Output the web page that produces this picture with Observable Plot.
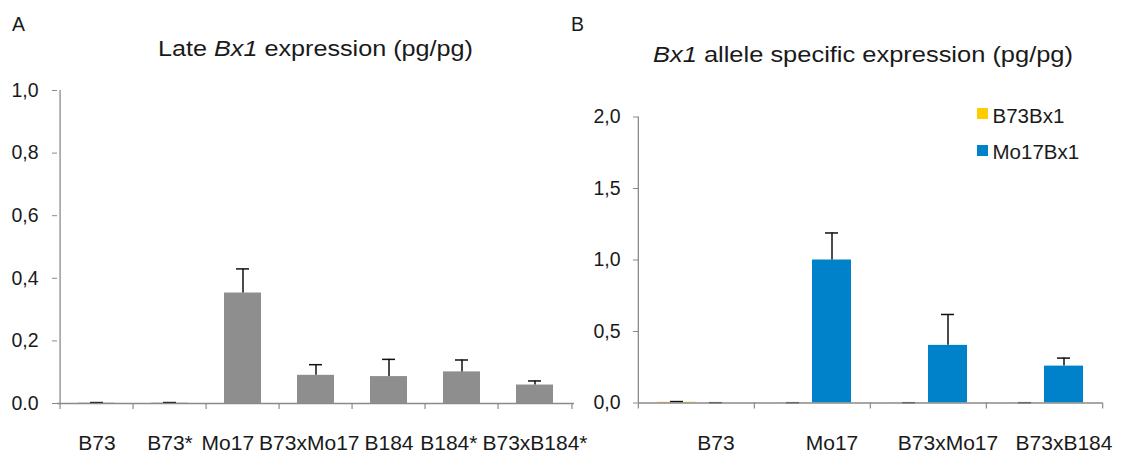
<!DOCTYPE html>
<html><head><meta charset="utf-8">
<script src="https://cdn.jsdelivr.net/npm/d3@7"></script>
<script src="https://cdn.jsdelivr.net/npm/@observablehq/plot@0.6"></script>
<style>
body{margin:0;background:#fff;font-family:"Liberation Sans",Arial,Helvetica,sans-serif;color:#1a1a1a}
#chart{position:relative;width:1122px;height:453px;overflow:hidden;background:#fff}
#chart svg{position:absolute;top:0}
.lbl{position:absolute;white-space:nowrap;line-height:1}
.sw{position:absolute;width:11px;height:11px}
</style></head><body>
<div id="chart"></div>
<script>
// ---------- Panel A: Late Bx1 expression ----------
const linesA = ["B73","B73*","Mo17","B73xMo17","B184","B184*","B73xB184*"];
const lateBx1 = [0.001,0.001,0.353,0.090,0.086,0.101,0.059];
const lateBx1Err = [0.002,0.002,0.077,0.034,0.055,0.038,0.013];
const ticksA = [0,0.2,0.4,0.6,0.8,1.0];
const tickLabelsA = ["0.0","0,2","0,4","0,6","0,8","1,0"];
const titleA = "Late <i>Bx1</i> expression (pg/pg)";

// ---------- Panel B: Bx1 allele specific expression ----------
const linesB = ["B73","Mo17","B73xMo17","B73xB184"];
const alleles = ["B73Bx1","Mo17Bx1"];
const alleleColors = ["#ffcc00","#0082ca"];
const b73Bx1 = [0.005,0.001,0.001,0.001];
const b73Bx1Err = [0.005,0.001,0.001,0.001];
const mo17Bx1 = [0.0,1.0,0.403,0.258];
const mo17Bx1Err = [0.002,0.189,0.216,0.056];
const ticksB = [0,0.5,1.0,1.5,2.0];
const tickLabelsB = ["0,0","0,5","1,0","1,5","2,0"];
const titleB = "<i>Bx1</i> allele specific expression (pg/pg)";

const FONT = '"Liberation Sans", Arial, Helvetica, sans-serif';
const AXIS = "#8a8a8a";
const INK = "#1a1a1a";
const chart = document.getElementById("chart");

// ----- Panel A plot -----
const wA = 600, mlA = 57, mrA = 26;
const stepA = (wA - mlA - mrA) / linesA.length;
const dataA = linesA.map((c, i) => ({c, v: lateBx1[i], e: lateBx1Err[i]}));
const fmtA = new Map(ticksA.map((t, i) => [t, tickLabelsA[i]]));
const plotA = Plot.plot({
  width: wA, height: 453,
  marginLeft: mlA, marginRight: mrA, marginTop: 90, marginBottom: 50,
  style: {fontFamily: FONT, background: "none", overflow: "visible"},
  x: {domain: linesA, paddingInner: 0.5, paddingOuter: 0.25, axis: null},
  y: {domain: [0, 1], axis: null},
  marks: [
    Plot.barY(dataA, {x: "c", y: "v", fill: "#8e8e8e"}),
    Plot.ruleX(dataA, {x: "c", y1: "v", y2: d => d.v + d.e, stroke: "#111", strokeWidth: 1.5}),
    Plot.tickY(dataA, {x: "c", y: d => d.v + d.e, stroke: "#111", strokeWidth: 1.5, insetLeft: 12, insetRight: 12}),
    Plot.ruleY([0], {stroke: AXIS, strokeWidth: 1.3}),
    Plot.ruleX(linesA, {x: d => d, y1: 0, y2: 0, dx: -stepA / 2, insetBottom: -6, stroke: AXIS, strokeWidth: 1.2}),
    Plot.ruleX(linesA.slice(-1), {x: d => d, y1: 0, y2: 0, dx: stepA / 2, insetBottom: -6, stroke: AXIS, strokeWidth: 1.2}),
    Plot.ruleX(linesA.slice(0, 1), {x: d => d, y1: 1, y2: 0, dx: -stepA / 2, stroke: AXIS, strokeWidth: 1.3}),
    Plot.axisY({ticks: ticksA, tickFormat: d => fmtA.get(d), tickSize: 5, tickPadding: 14, label: null,
      stroke: AXIS, fill: INK, fontSize: 19.5}),
    Plot.text(linesA, {x: d => d, text: d => d, frameAnchor: "bottom", lineAnchor: "top",
      dy: 32, fontSize: 21, fill: INK})
  ]
});

// ----- Panel B plot -----
const dataB = [];
linesB.forEach((c, i) => {
  dataB.push({c, a: alleles[0], v: b73Bx1[i], e: b73Bx1Err[i]});
  dataB.push({c, a: alleles[1], v: mo17Bx1[i], e: mo17Bx1Err[i]});
});
const leftB = 570, wB = 552, mlB = 67, mrB = 19;
const fstep = (wB - mlB - mrB) / linesB.length;
const po = 0.487;
const xstep = fstep / (alleles.length + 2 * po);
const edgeOff = po * xstep + xstep / 2;
const fmtB = new Map(ticksB.map((t, i) => [t, tickLabelsB[i]]));
const plotB = Plot.plot({
  width: wB, height: 453,
  marginLeft: mlB, marginRight: mrB, marginTop: 116.5, marginBottom: 50.5,
  style: {fontFamily: FONT, background: "none", overflow: "visible"},
  fx: {domain: linesB, padding: 0, axis: null},
  x: {domain: alleles, paddingInner: 0, paddingOuter: po, axis: null},
  y: {domain: [0, 2], axis: null},
  color: {domain: alleles, range: alleleColors},
  marks: [
    Plot.barY(dataB, {fx: "c", x: "a", y: "v", fill: "a"}),
    Plot.ruleX(dataB, {fx: "c", x: "a", y1: "v", y2: d => d.v + d.e, stroke: "#111", strokeWidth: 1.5}),
    Plot.tickY(dataB, {fx: "c", x: "a", y: d => d.v + d.e, stroke: "#111", strokeWidth: 1.5, insetLeft: 13, insetRight: 13}),
    Plot.ruleY([0], {stroke: AXIS, strokeWidth: 1.3}),
    Plot.ruleX(linesB, {fx: d => d, x: () => alleles[0], y1: 0, y2: 0, dx: -edgeOff, insetBottom: -6, stroke: AXIS, strokeWidth: 1.2}),
    Plot.ruleX(linesB.slice(-1), {fx: d => d, x: () => alleles[1], y1: 0, y2: 0, dx: edgeOff, insetBottom: -6, stroke: AXIS, strokeWidth: 1.2}),
    Plot.ruleX(linesB.slice(0, 1), {fx: d => d, x: () => alleles[0], y1: 2, y2: 0, dx: -edgeOff, stroke: AXIS, strokeWidth: 1.3}),
    Plot.axisY({ticks: ticksB, tickFormat: d => fmtB.get(d), tickSize: 5, tickPadding: 13, label: null,
      stroke: AXIS, fill: INK, fontSize: 19.5}),
    Plot.text(linesB, {fx: d => d, x: () => alleles[1], text: d => d, frameAnchor: "bottom", lineAnchor: "top",
      dy: 32, fontSize: 21, fill: INK})
  ]
});

plotA.style.left = "0px";
plotB.style.left = leftB + "px";
chart.append(plotA, plotB);

// Nudge crowded category labels of panel A leftwards (right to left) so they don't collide
(function () {
  const texts = Array.from(plotA.querySelectorAll('g[aria-label="text"] text'))
    .filter(t => linesA.includes(t.textContent));
  const gap = 5;
  for (let i = texts.length - 2; i >= 0; --i) {
    const a = texts[i].getBoundingClientRect();
    const b = texts[i + 1].getBoundingClientRect();
    const over = a.right + gap - b.left;
    if (over > 0) texts[i].setAttribute("dx", (-over).toFixed(1));
  }
})();

// ----- text labels (panel letters, titles, legend) -----
function label(html, left, baseline, size, targetWidth) {
  const d = document.createElement("div");
  d.className = "lbl";
  d.innerHTML = html;
  d.style.left = left + "px";
  d.style.top = (baseline - size * 0.8465) + "px";
  d.style.fontSize = size + "px";
  chart.append(d);
  if (targetWidth) {
    const w = d.getBoundingClientRect().width;
    d.style.transformOrigin = "0 0";
    d.style.transform = `scaleX(${targetWidth / w})`;
  }
  return d;
}
label("A", 12, 32, 19.5);
label("B", 571, 32, 19.5);
label(titleA, 158, 56.7, 22, 315);
label(titleB, 653, 63, 21.5, 420);

alleles.forEach((a, i) => {
  const sw = document.createElement("div");
  sw.className = "sw";
  sw.style.left = "976.5px";
  sw.style.top = (108.3 + i * 36.5) + "px";
  sw.style.background = alleleColors[i];
  chart.append(sw);
  label(a, 992.5, 123.3 + i * 36, 20.5);
});
</script>
</body></html>
